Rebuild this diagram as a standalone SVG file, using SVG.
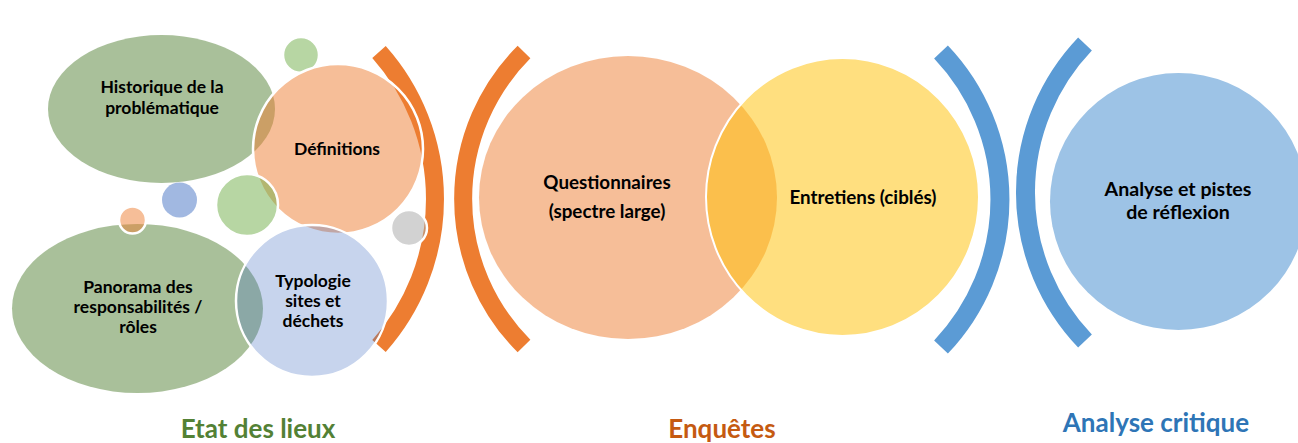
<svg xmlns="http://www.w3.org/2000/svg" width="1298" height="443" viewBox="0 0 1298 443">
<style>
text{font-family:Lato,"Liberation Sans",sans-serif;font-weight:700;text-anchor:middle;}
.lbl{font-size:17.5px;fill:#000;}
.lblv{font-size:18.8px;fill:#000;}
.lbla{font-size:19.6px;fill:#000;}
.ttl{font-size:26px;}
.arcO{fill:none;stroke:#ED7D31;stroke-width:18;}
.arcB{fill:none;stroke:#5B9BD5;stroke-width:19;}
.ws{stroke:#fff;stroke-width:2.5;}
</style>
<rect width="1298" height="443" fill="#fff"/>
<g id="brackets">
<path class="arcO" d="M379,52 A221,221 0 0 1 379,346"/>
<path class="arcO" d="M524,52 A208,208 0 0 0 524,346"/>
<path class="arcB" d="M941,52 A214,214 0 0 1 941,347"/>
<path class="arcB" d="M1085,44 A215,215 0 0 0 1085,341"/>
</g>
<g id="historique">
<ellipse cx="161.5" cy="109" rx="113.5" ry="74" fill="#548235" fill-opacity="0.5"/>
<text class="lbl" x="162" y="93">Historique de la</text>
<text class="lbl" x="162" y="114">problématique</text>
</g>
<g id="panorama">
<ellipse cx="137.5" cy="308.5" rx="125.5" ry="84.5" fill="#548235" fill-opacity="0.5"/>
<text class="lbl" x="138" y="293">Panorama des</text>
<text class="lbl" x="138" y="313">responsabilités /</text>
<text class="lbl" x="138" y="333">rôles</text>
</g>
<g id="bulle-verte-haut">
<circle cx="301" cy="55" r="18" fill="#70AD47" fill-opacity="0.5" class="ws"/>
</g>
<g id="definitions">
<circle cx="338" cy="149" r="85" fill="#ED7D31" fill-opacity="0.5" class="ws"/>
<text class="lbl" x="337" y="155">Définitions</text>
</g>
<g id="bulle-bleue">
<circle cx="179.5" cy="200" r="17.5" fill="#4472C4" fill-opacity="0.5"/>
</g>
<g id="bulle-verte">
<circle cx="247" cy="205" r="31" fill="#70AD47" fill-opacity="0.5" class="ws"/>
</g>
<g id="bulle-orange">
<circle cx="132.5" cy="220" r="13.5" fill="#ED7D31" fill-opacity="0.5" class="ws"/>
</g>
<g id="bulle-grise">
<circle cx="409" cy="228" r="18" fill="#A5A5A5" fill-opacity="0.5" class="ws"/>
</g>
<g id="typologie">
<circle cx="312" cy="301" r="76" fill="#4472C4" fill-opacity="0.3" class="ws"/>
<text class="lbl" x="313" y="287">Typologie</text>
<text class="lbl" x="313" y="307">sites et</text>
<text class="lbl" x="313" y="327">déchets</text>
</g>
<g id="questionnaires">
<ellipse cx="628" cy="197.5" rx="149" ry="141.5" fill="#ED7D31" fill-opacity="0.5"/>
</g>
<g id="entretiens">
<ellipse cx="842.5" cy="197" rx="136.5" ry="139" fill="#FFC000" fill-opacity="0.5" stroke="#fff" stroke-width="2"/>
<text class="lblv" x="863" y="204">Entretiens (ciblés)</text>
</g>
<g id="questionnaires-texte">
<text class="lblv" x="607" y="189">Questionnaires</text>
<text class="lblv" x="607" y="218">(spectre large)</text>
</g>
<g id="analyse">
<circle cx="1178.5" cy="201.5" r="128.5" fill="#9DC3E6"/>
<text class="lbla" x="1178" y="196">Analyse et pistes</text>
<text class="lbla" x="1178" y="219">de réflexion</text>
</g>
<g id="titres">
<text class="ttl" x="258" y="438" fill="#538135">Etat des lieux</text>
<text class="ttl" x="722" y="438" fill="#C55A11">Enquêtes</text>
<text class="ttl" x="1156" y="432" fill="#2E75B6">Analyse critique</text>
</g>
</svg>
